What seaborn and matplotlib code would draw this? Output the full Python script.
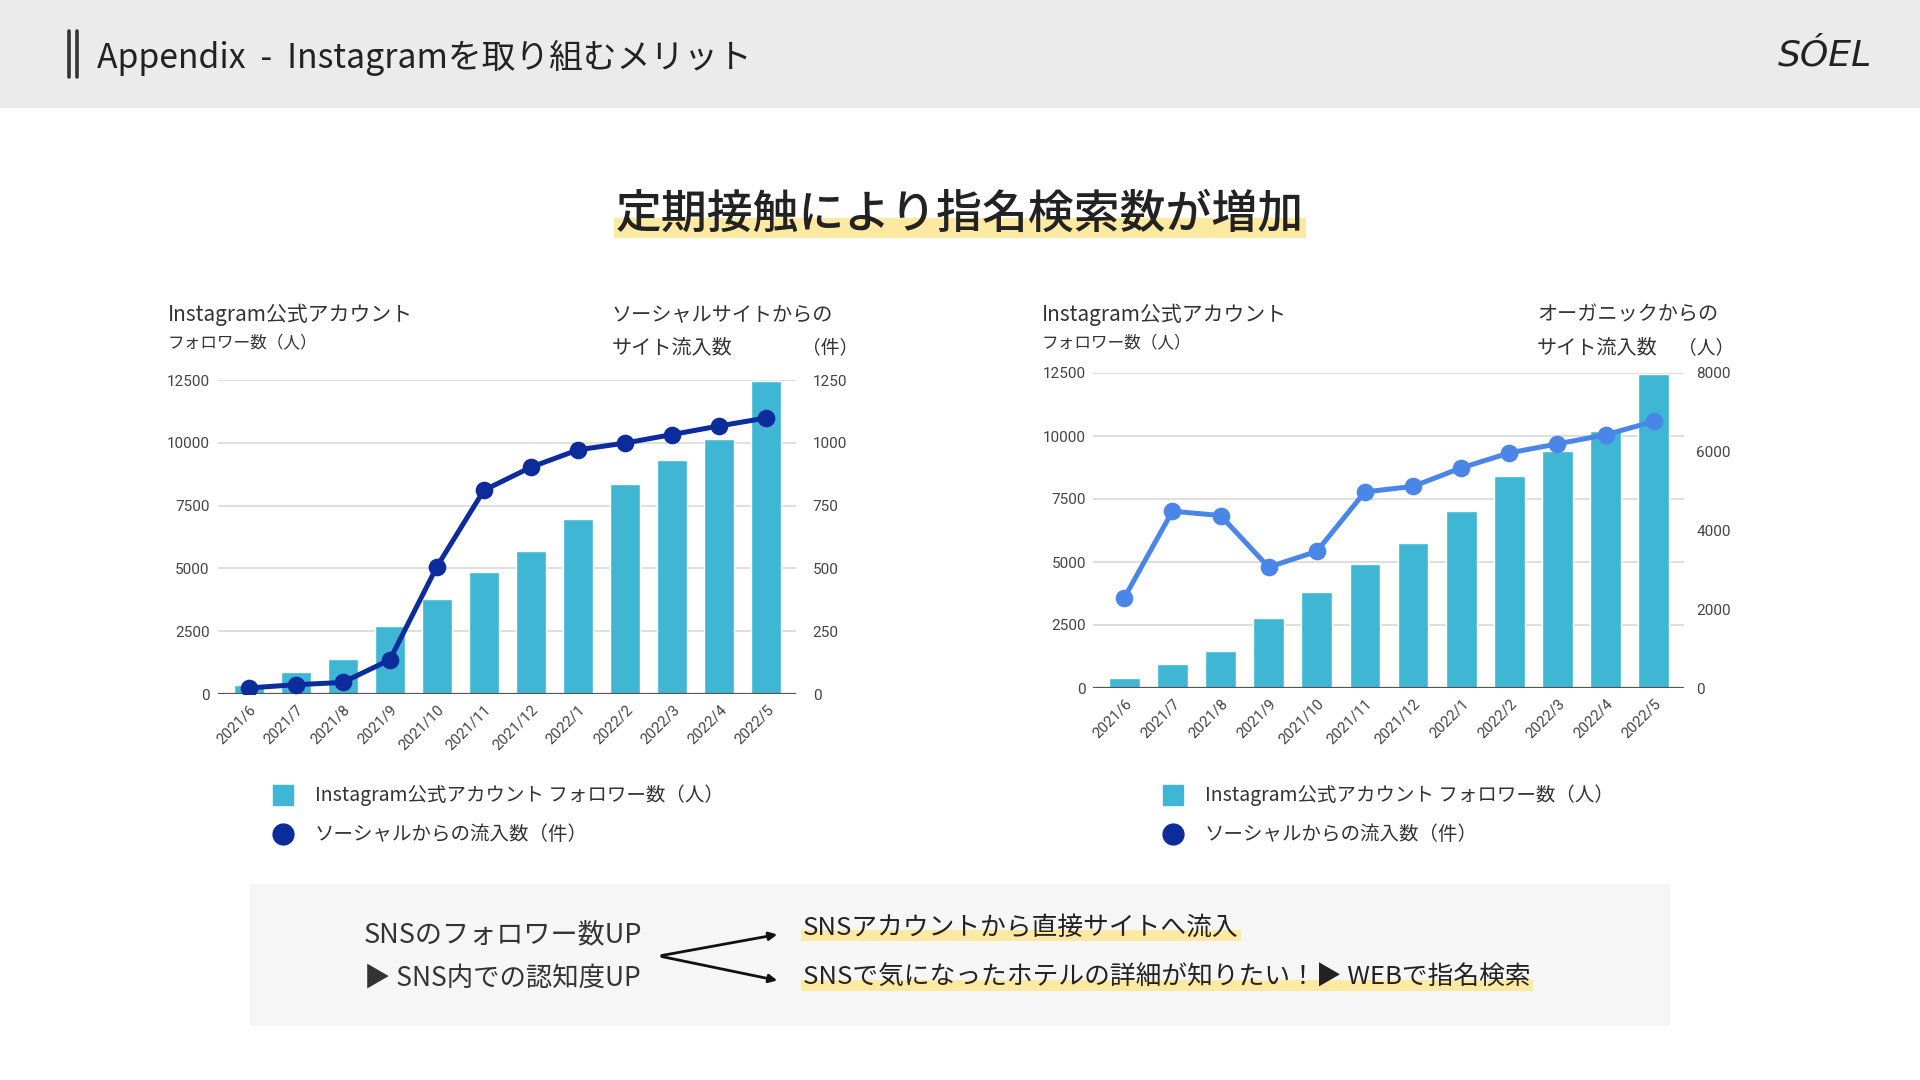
import matplotlib
matplotlib.use("Agg")
import numpy as np
import pandas as pd
import seaborn as sns
import matplotlib.pyplot as plt
from matplotlib.patches import Rectangle, FancyArrowPatch
from matplotlib.lines import Line2D

# ---------------- data ----------------
months = ["2021/6", "2021/7", "2021/8", "2021/9", "2021/10", "2021/11",
          "2021/12", "2022/1", "2022/2", "2022/3", "2022/4", "2022/5"]
followers_left = [370, 870, 1400, 2700, 3770, 4870, 5690, 6970, 8370, 9330, 10150, 12450]
social_inflow = [24, 37, 46, 136, 507, 811, 903, 972, 999, 1033, 1067, 1099]
followers_right = [400, 950, 1480, 2760, 3820, 4920, 5750, 7040, 8430, 9390, 10210, 12470]
organic_inflow = [2290, 4490, 4380, 3070, 3470, 4980, 5120, 5590, 5970, 6200, 6430, 6770]

left_yticks = [0, 2500, 5000, 7500, 10000, 12500]
social_yticks = [0, 250, 500, 750, 1000, 1250]
organic_yticks = [0, 2000, 4000, 6000, 8000]

header_title = "Appendix  -  Instagramを取り組むメリット"
main_title = "定期接触により指名検索数が増加"
legend_bar = "Instagram公式アカウント フォロワー数（人）"
legend_line = "ソーシャルからの流入数（件）"

BAR = "#40b6d5"
NAVY = "#0c2c9c"
BLUE = "#4a86e8"
TXT = "#333333"
HILITE = "#fde9a2"

sns.set_theme(style="white")
plt.rcParams["font.family"] = ["Noto Sans CJK JP", "DejaVu Sans"]

W, H = 1920, 1080
fig = plt.figure(figsize=(19.2, 10.8), dpi=100)
fig.patch.set_facecolor("white")


def fx(x):
    return x / W


def fy(y):
    return 1 - y / H


# ---------------- header ----------------
fig.add_artist(Rectangle((0, fy(108)), 1, 108 / H, transform=fig.transFigure,
                         facecolor="#ebebeb", edgecolor="none", zorder=0))
for xb in (69, 77):
    fig.add_artist(Line2D([fx(xb), fx(xb)], [fy(31), fy(77)], transform=fig.transFigure,
                          color="#333333", lw=2.6))
fig.text(fx(97), fy(58), header_title, fontsize=24.3, color="#222222", va="center", ha="left")
fig.text(fx(1825), fy(55), "SÓEL", fontsize=26, color="#222222", va="center", ha="center",
         family="DejaVu Sans", style="oblique", weight="light")

# ---------------- main title ----------------
t_main = fig.text(0.5, fy(214), main_title, fontsize=33, color="#222222",
                  ha="center", va="center", weight="medium", zorder=3)


# ---------------- charts ----------------
def draw_chart(rect, followers, inflow, rmax, rticks, line_color, lpad, rpad):
    ax = fig.add_axes(rect)
    df = pd.DataFrame({"month": months, "followers": followers, "inflow": inflow})
    sns.barplot(data=df, x="month", y="followers", order=months, color=BAR,
                saturation=1, width=0.64, ax=ax, zorder=2)
    ax2 = ax.twinx()
    sns.pointplot(data=df, x="month", y="inflow", order=months, color=line_color,
                  markers="o", markersize=10, linewidth=3.6, ax=ax2)
    ax.set_ylim(0, 12500)
    ax2.set_ylim(0, rmax)
    ax.set_yticks(left_yticks)
    ax.set_yticklabels([str(v) for v in left_yticks])
    ax2.set_yticks(rticks)
    ax2.set_yticklabels([str(v) for v in rticks])
    ax.set_xlim(-0.65, len(months) - 1 + 0.63)
    ax.set_xticks(range(len(months)))
    ax.set_xticklabels(months, rotation=45, ha="right", rotation_mode="anchor")
    for a in (ax, ax2):
        a.set_xlabel("")
        a.set_ylabel("")
        for s in a.spines.values():
            s.set_visible(False)
    ax.yaxis.grid(True, color="#d9d9d9", lw=1.2, zorder=0)
    ax.set_axisbelow(True)
    ax.axhline(0, color="#555555", lw=1.6, zorder=3)
    ax.tick_params(axis="y", length=0, pad=lpad, labelsize=11, labelcolor="#444444")
    ax2.tick_params(axis="y", length=0, pad=rpad, labelsize=11, labelcolor="#444444")
    ax.tick_params(axis="x", length=0, pad=6, labelsize=10.8, labelcolor="#444444")
    for lbl in ax.get_yticklabels() + ax2.get_yticklabels() + ax.get_xticklabels():
        lbl.set_fontfamily("Roboto")
    return ax, ax2


def rect_from_px(x0, x1, y0, y1):
    return [fx(x0), fy(y1), (x1 - x0) / W, (y1 - y0) / H]


draw_chart(rect_from_px(218, 796, 380, 694), followers_left, social_inflow, 1250,
           social_yticks, NAVY, 6, 12)
draw_chart(rect_from_px(1093, 1684, 373, 688), followers_right, organic_inflow, 8000,
           organic_yticks, BLUE, 5, 9)

# axis header texts
fig.text(fx(168), fy(315), "Instagram公式アカウント", fontsize=15, color=TXT, va="center")
fig.text(fx(168), fy(343), "フォロワー数（人）", fontsize=12, color=TXT, va="center")
fig.text(fx(612), fy(315), "ソーシャルサイトからの", fontsize=14.5, color=TXT, va="center")
fig.text(fx(612), fy(348), "サイト流入数", fontsize=14.5, color=TXT, va="center")
fig.text(fx(858), fy(348), "（件）", fontsize=13.5, color=TXT, va="center", ha="right")

fig.text(fx(1042), fy(315), "Instagram公式アカウント", fontsize=15, color=TXT, va="center")
fig.text(fx(1042), fy(343), "フォロワー数（人）", fontsize=12, color=TXT, va="center")
fig.text(fx(1537), fy(315), "オーガニックからの", fontsize=14.5, color=TXT, va="center")
fig.text(fx(1537), fy(348), "サイト流入数", fontsize=14.5, color=TXT, va="center")
fig.text(fx(1734), fy(348), "（人）", fontsize=13.5, color=TXT, va="center", ha="right")

# legends
for mx, tx in ((283, 315), (1173, 1205)):
    fig.add_artist(Line2D([fx(mx)], [fy(795)], transform=fig.transFigure, marker="s",
                          markersize=15, color=BAR, lw=0))
    fig.add_artist(Line2D([fx(mx)], [fy(834)], transform=fig.transFigure, marker="o",
                          markersize=15, color=NAVY, lw=0))
    fig.text(fx(tx), fy(795), legend_bar, fontsize=14, color=TXT, va="center")
    fig.text(fx(tx), fy(834), legend_line, fontsize=14, color=TXT, va="center")

# ---------------- bottom box ----------------
fig.add_artist(Rectangle((fx(250), fy(1026)), (1670 - 250) / W, (1026 - 884) / H,
                         transform=fig.transFigure, facecolor="#f6f6f6",
                         edgecolor="none", zorder=0))
fig.text(fx(364), fy(935), "SNSのフォロワー数UP", fontsize=19.5, color=TXT, va="center")
fig.text(fx(364), fy(978), "▶ SNS内での認知度UP", fontsize=19, color=TXT, va="center")
r1 = fig.text(fx(803), fy(928), "SNSアカウントから直接サイトへ流入", fontsize=18.5,
              color="#222222", va="center", zorder=3)
r2 = fig.text(fx(803), fy(978), "SNSで気になったホテルの詳細が知りたい！▶ WEBで指名検索",
              fontsize=18.5, color="#222222", va="center", zorder=3)

for y_end in (934, 981):
    fig.add_artist(FancyArrowPatch((fx(659), fy(956)), (fx(780), fy(y_end)),
                                   transform=fig.transFigure, arrowstyle="-|>",
                                   mutation_scale=12, color="#111111", lw=2))

# highlights under texts (sized from rendered text extents)
fig.canvas.draw()
renderer = fig.canvas.get_renderer()
for t in (t_main, r1, r2):
    bb = t.get_window_extent(renderer)
    h = bb.height * 0.42
    fig.add_artist(Rectangle((bb.x0 / W - 2 / W, bb.y0 / H), (bb.width + 4) / W, h / H,
                             transform=fig.transFigure, facecolor=HILITE,
                             edgecolor="none", zorder=1))

fig.savefig("out.png", dpi=100)
